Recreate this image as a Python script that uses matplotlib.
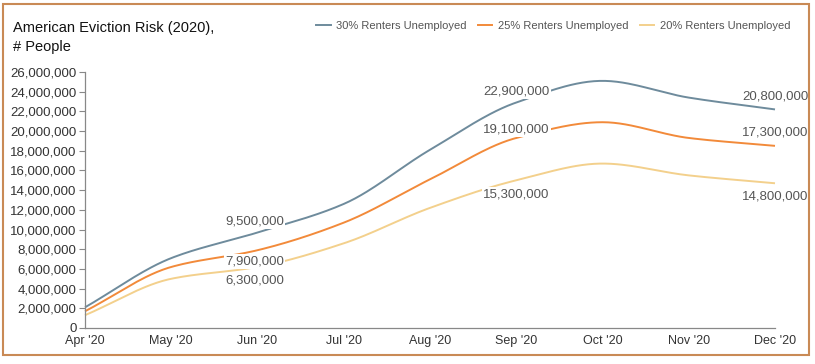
import matplotlib
matplotlib.use("Agg")
import matplotlib.pyplot as plt
import numpy as np
from matplotlib.patches import Rectangle
from matplotlib.lines import Line2D

months = ["Apr '20", "May '20", "Jun '20", "Jul '20", "Aug '20", "Sep '20", "Oct '20", "Nov '20", "Dec '20"]
s30 = [2.1e6, 7.1e6, 9.7e6, 12.6e6, 18.1e6, 22.9e6, 25.1e6, 23.4e6, 22.2e6]
s25 = [1.7e6, 6.2e6, 7.9e6, 10.7e6, 15.1e6, 19.3e6, 20.9e6, 19.3e6, 18.5e6]
s20 = [1.3e6, 5.0e6, 6.2e6, 8.6e6, 12.2e6, 15.0e6, 16.7e6, 15.5e6, 14.7e6]
series_names = ["30% Renters Unemployed", "25% Renters Unemployed", "20% Renters Unemployed"]
colors = ["#6E8B9C", "#F28A3A", "#F3D08C"]
# annotations: (month index, value text, series index)
ann_idx = [2, 5, 8]
ann_text = [["9,500,000", "22,900,000", "20,800,000"],
            ["7,900,000", "19,100,000", "17,300,000"],
            ["6,300,000", "15,300,000", "14,800,000"]]
yticks = np.arange(0, 26e6 + 1, 2e6)

def smooth(x, y, n=30):
    x = np.asarray(x, float); y = np.asarray(y, float)
    h = np.diff(x); d = np.diff(y) / h
    m = np.zeros_like(y)
    m[0] = d[0]; m[-1] = d[-1]
    for i in range(1, len(y) - 1):
        if d[i-1] * d[i] <= 0:
            m[i] = 0
        else:
            w1 = 2*h[i] + h[i-1]; w2 = h[i] + 2*h[i-1]
            m[i] = (w1 + w2) / (w1/d[i-1] + w2/d[i])
    xs, ys = [], []
    for i in range(len(x) - 1):
        t = np.linspace(0, 1, n, endpoint=False)
        h00 = 2*t**3 - 3*t**2 + 1; h10 = t**3 - 2*t**2 + t
        h01 = -2*t**3 + 3*t**2; h11 = t**3 - t**2
        xs.append(x[i] + t*h[i])
        ys.append(h00*y[i] + h10*h[i]*m[i] + h01*y[i+1] + h11*h[i]*m[i+1])
    xs.append([x[-1]]); ys.append([y[-1]])
    return np.concatenate(xs), np.concatenate(ys)

plt.rcParams['font.family'] = ['Liberation Sans', 'DejaVu Sans']

fig = plt.figure(figsize=(8.15, 3.64), dpi=100)
ax = fig.add_axes([85/815, (364-328)/364, (775-85)/815, (328-72)/364])

x = np.arange(len(months))
for s, c in zip([s30, s25, s20], colors):
    xs, ys = smooth(x, s)
    ax.plot(xs, ys, color=c, lw=1.4, solid_capstyle='butt', clip_on=False)

# label offsets in points (dx, dy) per series per annotation
offsets = [[(-2, 8), (0, 8), (0, 9.5)],
           [(-2, -8), (0, 6), (0, 9.5)],
           [(-2, -10), (0, -10), (0, -9.5)]]
for si, s in enumerate([s30, s25, s20]):
    for k, mi in enumerate(ann_idx):
        dx, dy = offsets[si][k]
        ax.annotate(ann_text[si][k], (mi, s[mi]), xytext=(dx, dy), textcoords='offset points',
                    ha='center', va='center', fontsize=9.5, color='#555555',
                    bbox=dict(boxstyle='square,pad=0.1', fc='white', ec='none'),
                    annotation_clip=False)

ax.set_xlim(0, len(months) - 1)
ax.set_ylim(0, 26e6)
ax.set_xticks(x)
ax.set_xticklabels(months, fontsize=9, color='#333333')
ax.set_yticks(yticks)
ax.set_yticklabels([f"{int(v):,}" for v in yticks], fontsize=9.5, color='#333333')
ax.tick_params(axis='x', length=0, pad=5)
ax.tick_params(axis='y', length=4, color='#888888', pad=2)
for sp in ['top', 'right']:
    ax.spines[sp].set_visible(False)
for sp in ['left', 'bottom']:
    ax.spines[sp].set_color('#888888')
    ax.spines[sp].set_linewidth(0.9)

fig.text(13/815, 1 - 28/364, "American Eviction Risk (2020),", fontsize=10.5, color='#111111', va='center')
fig.text(13/815, 1 - 47/364, "# People", fontsize=10.5, color='#111111', va='center')

handles = [Line2D([0], [0], color=c, lw=1.4) for c in colors]
fig.legend(handles, series_names, loc='center right', bbox_to_anchor=(800/815, 1 - 26/364),
           ncol=3, frameon=False, fontsize=8, handlelength=1.3, handletextpad=0.5,
           columnspacing=1.0, labelcolor='#555555')

fig.patches.append(Rectangle((3/815, 1 - 355/364), 806/815, 351/364, transform=fig.transFigure,
                             fill=False, ec='#C98A55', lw=1.5))

fig.savefig("out.png", dpi=100)
